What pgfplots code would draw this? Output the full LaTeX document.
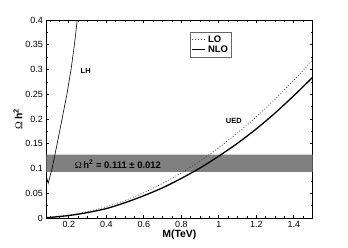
\documentclass[border=0pt]{standalone}
\usepackage{pgfplots}
\pgfplotsset{compat=1.18}
\usepackage{fontspec}
\setmainfont{Liberation Sans}
\newfontfamily\serifomega{Liberation Serif}
\begin{document}
\begin{tikzpicture}
\path[use as bounding box] (-46.3bp,-30bp) rectangle (301.7bp,218bp);
\begin{axis}[
  at={(0,0)}, anchor=south west,
  scale only axis, width=266.2bp, height=198bp,
  xmin=0.08, xmax=1.5, ymin=0, ymax=0.4,
  xtick={0.2,0.4,0.6,0.8,1,1.2,1.4},
  ytick={0,0.05,0.1,0.15,0.2,0.25,0.3,0.35,0.4},
  minor xtick={0.1,0.15,0.25,0.3,0.35,0.45,0.5,0.55,0.65,0.7,0.75,0.85,0.9,0.95,1.05,1.1,1.15,1.25,1.3,1.35,1.45},
  minor ytick={0.025,0.075,0.125,0.175,0.225,0.275,0.325,0.375},
  tick align=inside, major tick length=3bp, minor tick length=2bp,
  every tick/.style={black, line width=0.6bp},
  axis line style={line width=0.9bp},
  tick label style={font=\fontsize{9}{10}\selectfont},
  /pgf/number format/assume math mode=true,
  /pgf/number format/fixed,
  /pgf/number format/precision=2,
  scaled ticks=false,
  xlabel={\bfseries M(TeV)},
  ylabel={{\serifomega Ω}\,\textbf{h\textsuperscript{2}}},
  label style={font=\fontsize{10.5}{12}\selectfont},
  xlabel style={yshift=5bp},
  ylabel style={yshift=-4bp},
  legend style={at={(rel axis cs:0.54,0.94)}, anchor=north west, draw=black!60,
    font=\bfseries\fontsize{9.5}{10}\selectfont, inner sep=1.5bp, row sep=-2bp,
    cells={anchor=west}},
  legend image code/.code={\draw[#1] (0bp,0bp) -- (13bp,0bp);},
]
\addplot[fill=black!50, draw=none, forget plot] coordinates {(0.08,0.093) (1.5,0.093) (1.5,0.128) (0.08,0.128) (0.08,0.093)};
\addplot[black!75, dotted, line width=0.8bp, smooth] coordinates {
(0.08,0.0009) (0.1,0.0014) (0.2,0.0057) (0.3,0.0128) (0.4,0.0227) (0.5,0.0355)
(0.6,0.051) (0.7,0.070) (0.8,0.091) (0.9,0.115) (1.0,0.142) (1.1,0.172)
(1.2,0.204) (1.3,0.240) (1.4,0.278) (1.5,0.319)};
\addlegendentry{LO}
\addplot[black, line width=1.3bp, smooth] coordinates {
(0.08,0.0008) (0.1,0.0012) (0.2,0.005) (0.3,0.011) (0.4,0.019) (0.5,0.031)
(0.6,0.045) (0.7,0.061) (0.8,0.080) (0.9,0.101) (1.0,0.125) (1.1,0.151)
(1.2,0.180) (1.3,0.212) (1.4,0.247) (1.5,0.284)};
\addlegendentry{NLO}
\addplot[black, line width=0.6bp, forget plot] coordinates {
(0.08,0.085) (0.09,0.07) (0.111,0.1) (0.138,0.15) (0.164,0.2) (0.19,0.25)
(0.212,0.3) (0.23,0.35) (0.245,0.4) (0.26,0.45)};
\node[font=\bfseries\fontsize{7.5}{8}\selectfont] at (axis cs:0.29,0.298) {LH};
\node[font=\bfseries\fontsize{7.5}{8}\selectfont] at (axis cs:1.08,0.196) {UED};
\node[font=\bfseries\fontsize{9.5}{10}\selectfont] at (axis cs:0.462,0.109) {{\serifomega\mdseries Ω}\,h\textsuperscript{2} = 0.111 ± 0.012};
\end{axis}
\end{tikzpicture}
\end{document}
